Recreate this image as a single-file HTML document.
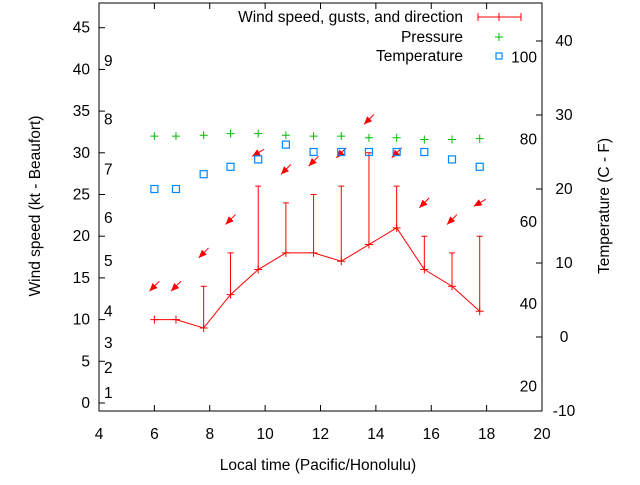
<!DOCTYPE html>
<html><head><meta charset="utf-8"><style>
body{margin:0;background:#fff}
svg{font-family:"Liberation Sans",sans-serif;font-size:15.5px}
</style></head><body>
<svg id="chart" width="640" height="480" viewBox="0 0 640 480" xmlns="http://www.w3.org/2000/svg">
<g id="axes"></g><g id="marks"></g>
</svg>
<script>
const times=[6,6.78,7.78,8.75,9.75,10.75,11.75,12.75,13.75,14.75,15.75,16.75,17.75];
const windKt=[10,10,9,13,16,18,18,17,19,21,16,14,11];
const gustKt=[null,null,14,18,26,24,25,26,30,26,20,18,20];
const pressure=[32.0,32.0,32.1,32.3,32.3,32.1,32.0,32.0,31.8,31.8,31.6,31.6,31.7];
const tempC=[20,20,22,23,24,26,25,25,25,25,25,24,23];
const dirDeg=[45,45,45,45,60,45,45,45,45,45,45,45,60];
const xTicks=[4,6,8,10,12,14,16,18,20];
const yTicks=[0,5,10,15,20,25,30,35,40,45];
const y2Ticks=[-10,0,10,20,30,40];
const beaufort=[[1,1.2],[2,4.2],[3,7.2],[4,11],[5,17],[6,22.2],[7,28],[8,34],[9,41]];
const fahr=[20,40,60,80,100];

const L=99,R=542,T=3,B=411;
const X=v=>L+(v-4)*(R-L)/16;
const Y=v=>403-v*8.34;
const Y2=c=>337-c*7.4;
const NS="http://www.w3.org/2000/svg";
function mk(p,tag,a,txt){const e=document.createElementNS(NS,tag);for(const k in a)e.setAttribute(k,a[k]);if(txt!==undefined)e.textContent=txt;p.appendChild(e);return e;}
const ax=document.getElementById('axes'),mg=document.getElementById('marks');
let e=mk(ax,'rect',{x:L,y:T,width:R-L,height:B-T,fill:'none',stroke:'#000'});

xTicks.forEach(t=>{const x=X(t);mk(ax,'line',{x1:x,x2:x,y1:B,y2:B-6,stroke:'#000'});mk(ax,'line',{x1:x,x2:x,y1:T,y2:T+6,stroke:'#000'});
 e=mk(ax,'text',{x:x,y:B+28,'text-anchor':'middle'},t);});
yTicks.forEach(t=>{const y=Y(t);mk(ax,'line',{x1:L,x2:L+6,y1:y,y2:y,stroke:'#000'});
 e=mk(ax,'text',{x:90,y:y+5,'text-anchor':'end'},t);});
y2Ticks.forEach(t=>{const y=Y2(t);mk(ax,'line',{x1:R,x2:R-6,y1:y,y2:y,stroke:'#000'});
 e=mk(ax,'text',{x:564,y:y+5,'text-anchor':'middle'},t);});
beaufort.forEach(b=>{e=mk(ax,'text',{x:104,y:Y(b[1])+5},b[0]);});
fahr.forEach(f=>{e=mk(ax,'text',{x:537,y:Y2((f-32)*5/9)+5,'text-anchor':'end'},f);});
e=mk(ax,'text',{x:318,y:470,'text-anchor':'middle'},'Local time (Pacific/Honolulu)');
e=mk(ax,'text',{x:40,y:206,'text-anchor':'middle',transform:'rotate(-90 40 206)'},'Wind speed (kt - Beaufort)');
e=mk(ax,'text',{x:609,y:206,'text-anchor':'middle',transform:'rotate(-90 609 206)'},'Temperature (C - F)');
// legend
e=mk(ax,'text',{x:463,y:22,'text-anchor':'end'},'Wind speed, gusts, and direction');
mk(ax,'path',{d:'M478 17H521M478 13V21M521 13V21M499 13V21',stroke:'#f00',fill:'none'});
e=mk(ax,'text',{x:463,y:42,'text-anchor':'end'},'Pressure');
mk(ax,'path',{d:'M499 33V41M495 37H503',stroke:'#0b0'});
e=mk(ax,'text',{x:463,y:61,'text-anchor':'end'},'Temperature');
mk(ax,'rect',{x:496,y:53,width:6,height:6,fill:'none',stroke:'#08f','stroke-width':1.2});
// wind line
let d=times.map((t,i)=>(i?'L':'M')+X(t)+' '+Y(windKt[i])).join('');
e=mk(mg,'path',{d:d,stroke:'#f00',fill:'none'});
times.forEach((t,i)=>{const x=X(t),y=Y(windKt[i]);
 e=mk(mg,'path',{d:`M${x-4} ${y}H${x+4}M${x} ${y-4}V${y+4}`,stroke:'#f00'});
 if(gustKt[i]!==null){const g=Y(gustKt[i]);e=mk(mg,'path',{d:`M${x} ${y}V${g}M${x-3} ${g}H${x+3}`,stroke:'#f00'});}
 const top=Math.max(windKt[i],gustKt[i]||0)+4,ay=Y(top);
 const a=dirDeg[i]*Math.PI/180,dx=Math.sin(a)*7,dy=-Math.cos(a)*7;
 const hx=x-dx,hy=ay-dy,ux=dx/7,uy=dy/7;
 e=mk(mg,'g',{});
 mk(e,'line',{x1:x+dx,y1:ay+dy,x2:hx,y2:hy,stroke:'#f00'});
 mk(e,'polygon',{points:`${hx},${hy} ${hx+ux*8-uy*3.5},${hy+uy*8+ux*3.5} ${hx+ux*8+uy*3.5},${hy+uy*8-ux*3.5}`,fill:'#f00'});
 const py=Y(pressure[i]);e=mk(mg,'path',{d:`M${x-4} ${py}H${x+4}M${x} ${py-4}V${py+4}`,stroke:'#0b0'});
 const ty=Y2(tempC[i]);e=mk(mg,'rect',{x:x-3.5,y:ty-3.5,width:7,height:7,fill:'none',stroke:'#08f','stroke-width':1.2});
});
</script>
</body></html>
